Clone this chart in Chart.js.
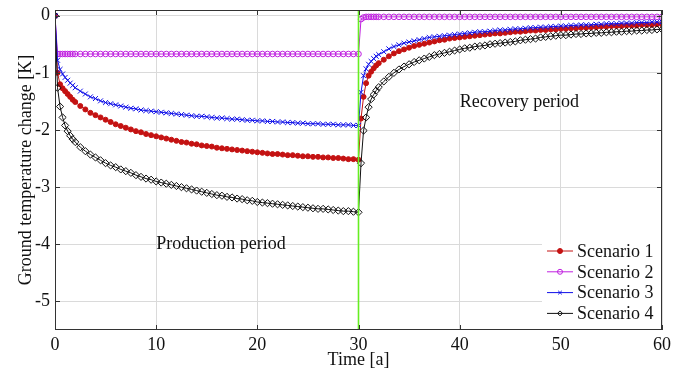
<!DOCTYPE html>
<html>
<head>
<meta charset="utf-8">
<script src="https://cdn.jsdelivr.net/npm/chart.js@4.4.1/dist/chart.umd.min.js"></script>
<style>
  html, body { margin: 0; padding: 0; background: #fff; }
  #wrap { width: 685px; height: 371px; }
</style>
</head>
<body>
<div id="wrap"><canvas id="tempChart"></canvas></div>
<script>
// time axis [a]: production 0-30, recovery 30-60
const timeProd = [
  0, 0.25, 0.5, 0.75, 1, 1.25, 1.5, 1.75, 2,
  2.5, 3, 3.5, 4, 4.5, 5, 5.5, 6, 6.5, 7,
  7.5, 8, 8.5, 9, 9.5, 10, 10.5, 11, 11.5, 12,
  12.5, 13, 13.5, 14, 14.5, 15, 15.5, 16, 16.5, 17,
  17.5, 18, 18.5, 19, 19.5, 20, 20.5, 21, 21.5, 22,
  22.5, 23, 23.5, 24, 24.5, 25, 25.5, 26, 26.5, 27,
  27.5, 28, 28.5, 29, 29.5, 30
];
const timeRec = [
  30.25, 30.5, 30.75, 31, 31.25, 31.5, 31.75, 32,
  32.5, 33, 33.5, 34, 34.5, 35, 35.5, 36, 36.5, 37,
  37.5, 38, 38.5, 39, 39.5, 40, 40.5, 41, 41.5, 42,
  42.5, 43, 43.5, 44, 44.5, 45, 45.5, 46, 46.5, 47,
  47.5, 48, 48.5, 49, 49.5, 50, 50.5, 51, 51.5, 52,
  52.5, 53, 53.5, 54, 54.5, 55, 55.5, 56, 56.5, 57,
  57.5, 58, 58.5, 59, 59.5, 60
];

const s1Prod = [
  0, -1.00, -1.20, -1.27, -1.32, -1.37, -1.42, -1.47, -1.51,
  -1.58, -1.64, -1.70, -1.74, -1.78, -1.82, -1.86, -1.90, -1.93, -1.96,
  -1.99, -2.02, -2.04, -2.07, -2.09, -2.11, -2.13, -2.15, -2.17, -2.19,
  -2.21, -2.22, -2.24, -2.25, -2.27, -2.28, -2.29, -2.31, -2.32, -2.33,
  -2.34, -2.35, -2.36, -2.37, -2.38, -2.39, -2.40, -2.41, -2.42, -2.42,
  -2.43, -2.44, -2.44, -2.45, -2.46, -2.46, -2.47, -2.47, -2.48, -2.48,
  -2.49, -2.49, -2.50, -2.51, -2.51, -2.52
];
const s1Rec = [
  -1.80, -1.42, -1.18, -1.05, -0.98, -0.92, -0.87, -0.83,
  -0.77, -0.71, -0.66, -0.62, -0.59, -0.56, -0.53, -0.51, -0.49, -0.47,
  -0.45, -0.43, -0.42, -0.40, -0.39, -0.38, -0.37, -0.36, -0.35, -0.34,
  -0.33, -0.32, -0.31, -0.31, -0.30, -0.29, -0.28, -0.28, -0.27, -0.26,
  -0.26, -0.25, -0.25, -0.24, -0.24, -0.23, -0.23, -0.22, -0.22, -0.21,
  -0.21, -0.20, -0.20, -0.19, -0.19, -0.18, -0.18, -0.18, -0.17, -0.17,
  -0.17, -0.16, -0.16, -0.16, -0.15, -0.15
];

const s2Prod = [
  0, -0.67, -0.67, -0.67, -0.67, -0.67, -0.67, -0.67, -0.67,
  -0.67, -0.67, -0.67, -0.67, -0.67, -0.67, -0.67, -0.67, -0.67, -0.67,
  -0.67, -0.67, -0.67, -0.67, -0.67, -0.67, -0.67, -0.67, -0.67, -0.67,
  -0.67, -0.67, -0.67, -0.67, -0.67, -0.67, -0.67, -0.67, -0.67, -0.67,
  -0.67, -0.67, -0.67, -0.67, -0.67, -0.67, -0.67, -0.67, -0.67, -0.67,
  -0.67, -0.67, -0.67, -0.67, -0.67, -0.67, -0.67, -0.67, -0.67, -0.67,
  -0.67, -0.67, -0.67, -0.67, -0.67, -0.67
];
const s2Rec = [
  -0.06, -0.03, -0.02, -0.02, -0.02, -0.02, -0.02, -0.02,
  -0.02, -0.02, -0.02, -0.02, -0.02, -0.02, -0.02, -0.02, -0.02, -0.02,
  -0.02, -0.02, -0.02, -0.02, -0.02, -0.02, -0.02, -0.02, -0.02, -0.02,
  -0.02, -0.02, -0.02, -0.02, -0.02, -0.02, -0.02, -0.02, -0.02, -0.02,
  -0.02, -0.02, -0.02, -0.02, -0.02, -0.02, -0.02, -0.02, -0.02, -0.02,
  -0.02, -0.02, -0.02, -0.02, -0.02, -0.02, -0.02, -0.02, -0.02, -0.02,
  -0.02, -0.02, -0.02, -0.02, -0.02, -0.02
];

const s3Prod = [
  0, -0.78, -0.94, -1.02, -1.08, -1.13, -1.18, -1.22, -1.26,
  -1.32, -1.37, -1.42, -1.45, -1.49, -1.52, -1.54, -1.56, -1.58, -1.60,
  -1.62, -1.63, -1.65, -1.66, -1.67, -1.68, -1.69, -1.70, -1.71, -1.72,
  -1.73, -1.74, -1.75, -1.76, -1.76, -1.77, -1.78, -1.79, -1.79, -1.80,
  -1.81, -1.81, -1.82, -1.83, -1.83, -1.84, -1.84, -1.85, -1.85, -1.86,
  -1.86, -1.87, -1.87, -1.88, -1.88, -1.89, -1.89, -1.89, -1.90, -1.90,
  -1.90, -1.91, -1.91, -1.91, -1.92, -1.92
];
const s3Rec = [
  -1.34, -1.05, -0.93, -0.85, -0.80, -0.75, -0.71, -0.68,
  -0.63, -0.58, -0.54, -0.51, -0.48, -0.46, -0.44, -0.42, -0.40, -0.38,
  -0.37, -0.36, -0.35, -0.34, -0.33, -0.32, -0.31, -0.30, -0.29, -0.28,
  -0.28, -0.27, -0.26, -0.25, -0.25, -0.24, -0.23, -0.23, -0.22, -0.21,
  -0.21, -0.20, -0.20, -0.19, -0.19, -0.18, -0.18, -0.17, -0.17, -0.16,
  -0.16, -0.16, -0.15, -0.15, -0.14, -0.14, -0.14, -0.13, -0.13, -0.13,
  -0.12, -0.12, -0.12, -0.11, -0.11, -0.11
];

const s4Prod = [
  0, -1.26, -1.59, -1.78, -1.92, -2.02, -2.10, -2.16, -2.21,
  -2.30, -2.37, -2.43, -2.48, -2.53, -2.58, -2.62, -2.65, -2.69, -2.72,
  -2.75, -2.79, -2.82, -2.85, -2.87, -2.90, -2.92, -2.94, -2.96, -2.98,
  -3.00, -3.02, -3.04, -3.06, -3.08, -3.10, -3.12, -3.14, -3.15, -3.17,
  -3.18, -3.20, -3.21, -3.23, -3.24, -3.26, -3.27, -3.28, -3.29, -3.30,
  -3.31, -3.32, -3.33, -3.34, -3.35, -3.36, -3.37, -3.38, -3.38, -3.39,
  -3.40, -3.41, -3.42, -3.42, -3.43, -3.44
];
const s4Rec = [
  -2.58, -2.01, -1.78, -1.60, -1.46, -1.38, -1.31, -1.25,
  -1.15, -1.07, -1.00, -0.94, -0.89, -0.85, -0.81, -0.78, -0.75, -0.72,
  -0.69, -0.67, -0.65, -0.63, -0.61, -0.59, -0.57, -0.56, -0.54, -0.53,
  -0.52, -0.50, -0.49, -0.48, -0.47, -0.46, -0.45, -0.43, -0.42, -0.41,
  -0.40, -0.38, -0.37, -0.36, -0.35, -0.34, -0.34, -0.33, -0.32, -0.32,
  -0.31, -0.31, -0.30, -0.30, -0.29, -0.29, -0.28, -0.28, -0.27, -0.27,
  -0.26, -0.26, -0.25, -0.25, -0.24, -0.24
];

const xTicks = [0, 10, 20, 30, 40, 50, 60];
const yTicks = [0, -1, -2, -3, -4, -5];
const switchTime = 30;

const serif = "'Liberation Serif', 'Times New Roman', serif";

function toPoints(prod, rec) {
  return timeProd.map((t, i) => ({ x: t, y: prod[i] }))
    .concat(timeRec.map((t, i) => ({ x: t, y: rec[i] })));
}

const series = [
  { label: "Scenario 1", data: toPoints(s1Prod, s1Rec), color: "#c41212", style: "circle", radius: 2.5, fill: "#c41212" },
  { label: "Scenario 2", data: toPoints(s2Prod, s2Rec), color: "#c020e0", style: "circle", radius: 2.8, fill: "rgba(255,255,255,0)" },
  { label: "Scenario 3", data: toPoints(s3Prod, s3Rec), color: "#1010e8", style: "crossRot", radius: 3.5, fill: "#1010e8" },
  { label: "Scenario 4", data: toPoints(s4Prod, s4Rec), color: "#111111", style: "rectRot", radius: 3.6, fill: "rgba(255,255,255,0)" }
];

const datasets = series.map((s, i) => ({
  label: s.label,
  data: s.data,
  borderColor: s.color,
  borderWidth: 1,
  pointStyle: s.style,
  pointRadius: s.radius,
  pointBorderColor: s.color,
  pointBackgroundColor: s.fill,
  pointBorderWidth: 1,
  tension: 0,
  order: 4 - i
}));

datasets.push({
  label: "switch",
  data: [{ x: switchTime, y: 0.1 }, { x: switchTime, y: -5.5 }],
  borderColor: "#66ee22",
  borderWidth: 1.6,
  pointRadius: 0,
  order: 0
});

// frame, inward ticks, period labels and legend box
const framePlugin = {
  id: "frame",
  afterDraw(chart) {
    const { ctx, chartArea: a, scales } = chart;
    ctx.save();
    ctx.strokeStyle = "#333";
    ctx.lineWidth = 1;
    ctx.strokeRect(a.left + 0.5, a.top + 0.5, a.right - a.left - 1, a.bottom - a.top - 1);
    ctx.beginPath();
    xTicks.forEach(v => {
      const px = Math.round(scales.x.getPixelForValue(v)) + 0.5;
      ctx.moveTo(px, a.bottom); ctx.lineTo(px, a.bottom - 5);
      ctx.moveTo(px, a.top); ctx.lineTo(px, a.top + 5);
    });
    yTicks.forEach(v => {
      const py = Math.round(scales.y.getPixelForValue(v)) + 0.5;
      ctx.moveTo(a.left, py); ctx.lineTo(a.left + 5, py);
      ctx.moveTo(a.right, py); ctx.lineTo(a.right - 5, py);
    });
    ctx.stroke();

    ctx.fillStyle = "#111";
    ctx.font = "18px " + serif;
    ctx.textBaseline = "middle";
    ctx.textAlign = "left";
    ctx.fillText("Production period", scales.x.getPixelForValue(10), scales.y.getPixelForValue(-4));
    ctx.fillText("Recovery period", scales.x.getPixelForValue(40), scales.y.getPixelForValue(-1.52));

    // legend
    const bx = a.right - 120, by = a.bottom - 86;
    ctx.fillStyle = "#fff";
    ctx.fillRect(bx, by, a.right - bx - 1, a.bottom - by - 1);
    series.forEach((s, i) => {
      const y = a.bottom - 79 + i * 20.8;
      const x0 = a.right - 115, x1 = a.right - 89, xm = (x0 + x1) / 2;
      ctx.strokeStyle = s.color;
      ctx.lineWidth = 1;
      ctx.beginPath(); ctx.moveTo(x0, y); ctx.lineTo(x1, y); ctx.stroke();
      ctx.fillStyle = s.fill;
      Chart.helpers.drawPoint(ctx, { pointStyle: s.style, radius: 2.5, borderWidth: 1, rotation: 0 }, xm, y);
      ctx.fillStyle = "#111";
      ctx.fillText(s.label, a.right - 85, y + 1);
    });
    ctx.restore();
  }
};

new Chart(document.getElementById("tempChart").getContext("2d"), {
  type: "line",
  data: { datasets: datasets },
  plugins: [framePlugin],
  options: {
    responsive: true,
    maintainAspectRatio: false,
    animation: false,
    layout: { padding: { top: 10, right: 23, left: 0, bottom: 0 } },
    plugins: {
      legend: { display: false },
      tooltip: { enabled: false }
    },
    scales: {
      x: {
        type: "linear",
        min: 0,
        max: 60,
        afterBuildTicks: s => { s.ticks = xTicks.map(v => ({ value: v })); },
        afterFit: s => { s.height = 41; s.paddingLeft = 0; s.paddingRight = 0; },
        grid: { color: "#dadada", drawTicks: false },
        border: { display: false },
        ticks: { color: "#111", padding: 4, font: { family: serif, size: 18 }, maxRotation: 0 },
        title: { display: true, text: "Time [a]", color: "#111", font: { family: serif, size: 18 }, padding: { top: 0, bottom: 0 } }
      },
      y: {
        type: "linear",
        min: -5.5,
        max: 0.1,
        afterBuildTicks: s => { s.ticks = yTicks.map(v => ({ value: v })); },
        afterFit: s => { s.width = 55; s.paddingTop = 0; s.paddingBottom = 0; },
        grid: { color: "#dadada", drawTicks: false },
        border: { display: false },
        ticks: { color: "#111", padding: 5, font: { family: serif, size: 18 }, callback: v => String(v) },
        title: { display: true, text: "Ground temperature change [K]", color: "#111", font: { family: serif, size: 18 }, padding: { top: 15, bottom: 0 } }
      }
    }
  }
});
</script>
</body>
</html>
